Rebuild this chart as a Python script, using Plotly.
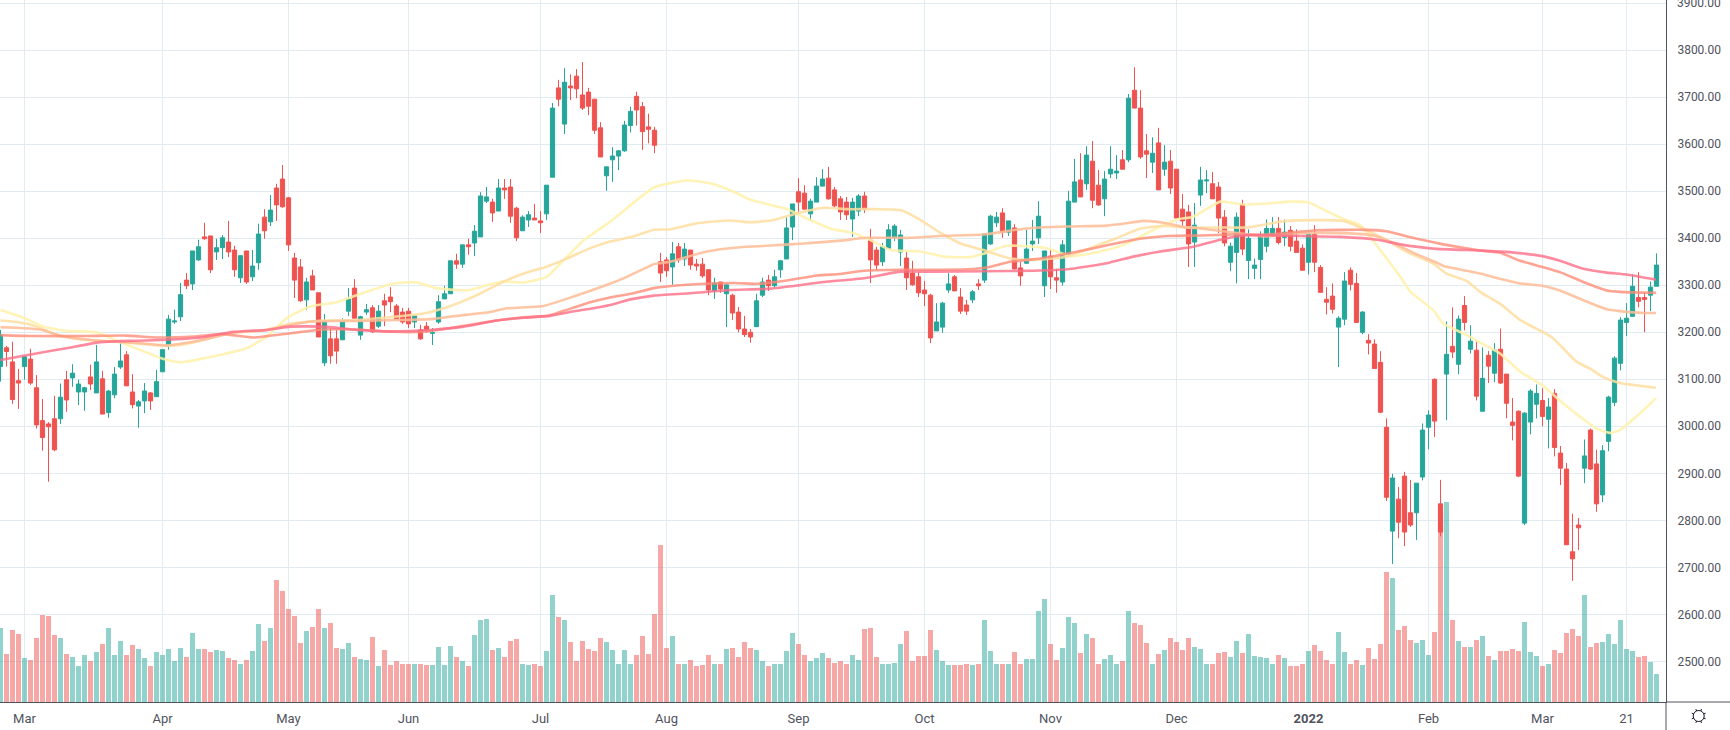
#!/usr/bin/env python3
"""Daily candlesticks with volume and five moving averages, Mar 2021 - Mar 2022."""

import math

import plotly.graph_objects as go

# one candle per session, index 0 is the first session of March
first_index = -4

opens = [
    3127,3167,3137,3097,3127,3143,3082,3012,3005,3016,
    3016,3099,3103,3073,3073,3105,3071,3101,3029,3067,
    3126,3152,3073,3043,3054,3071,3063,3116,3171,3222,
    3233,3311,3303,3354,3403,3405,3371,3380,3392,3375,
    3316,3373,3318,3348,3445,3435,3507,3526,3486,3358,
    3339,3269,3320,3284,3135,3186,3186,3184,3245,3294,
    3194,3243,3252,3213,3267,3275,3256,3243,3245,3222,
    3205,3213,3198,3222,3271,3282,3352,3345,3386,3390,
    3403,3479,3477,3458,3507,3509,3464,3416,3439,3443,
    3437,3452,3530,3720,3643,3724,3745,3705,3711,3696,
    3635,3533,3567,3575,3586,3640,3702,3680,3637,3630,
    3350,3354,3339,3382,3356,3375,3345,3345,3333,3288,
    3307,3282,3279,3243,3207,3200,3212,3279,3311,3299,
    3333,3356,3424,3499,3496,3452,3477,3511,3528,3503,
    3484,3477,3441,3458,3490,3396,3375,3350,3379,3401,
    3371,3358,3326,3318,3290,3279,3203,3211,3290,3318,
    3275,3258,3269,3303,3311,3388,3433,3454,3413,3422,
    3337,3347,3388,3401,3299,3362,3316,3307,3367,3477,
    3524,3516,3564,3513,3484,3537,3539,3567,3567,3715,
    3677,3586,3562,3603,3547,3564,3547,3462,3456,3392,
    3492,3522,3516,3509,3445,3349,3370,3472,3353,3336,
    3355,3383,3406,3421,3402,3417,3394,3379,3349,3408,
    3338,3270,3277,3211,3228,3332,3304,3200,3183,3175,
    3136,2998,2777,2845,2894,2816,2816,2892,2998,3100,
    2835,3111,3170,3132,3257,3164,3162,3032,3151,3113,
    3164,3111,3009,3032,2794,3009,3047,3055,3015,3070,
    2943,2909,2733,2790,2911,2992,2920,2854,2968,3051,
    3134,3221,3234,3274,3274,3279,3298,
]
closes = [
    3194,3159,3057,3092,3148,3092,3003,2976,2999,2950,
    3062,3056,3113,3090,3082,3090,3137,3026,3075,3111,
    3139,3086,3046,3052,3075,3054,3095,3163,3228,3224,
    3280,3299,3373,3382,3399,3333,3380,3401,3371,3333,
    3363,3307,3341,3409,3416,3460,3471,3467,3386,3311,
    3267,3307,3290,3190,3224,3150,3160,3224,3271,3230,
    3233,3248,3201,3245,3258,3265,3228,3222,3218,3235,
    3186,3205,3199,3265,3282,3352,3345,3386,3382,3415,
    3490,3488,3454,3507,3503,3447,3401,3445,3450,3439,
    3433,3513,3677,3696,3732,3720,3718,3677,3681,3630,
    3573,3552,3575,3586,3641,3670,3673,3627,3632,3598,
    3326,3331,3367,3354,3377,3343,3341,3320,3290,3305,
    3292,3301,3241,3207,3195,3190,3267,3307,3299,3318,
    3352,3422,3473,3477,3462,3479,3511,3526,3484,3469,
    3456,3450,3477,3490,3462,3354,3343,3382,3418,3426,
    3407,3316,3301,3284,3282,3188,3222,3262,3303,3288,
    3245,3245,3286,3299,3409,3447,3445,3413,3437,3335,
    3320,3377,3394,3447,3373,3318,3311,3386,3479,3520,
    3488,3577,3481,3471,3526,3547,3543,3547,3698,3677,
    3573,3579,3581,3503,3562,3507,3443,3437,3388,3428,
    3524,3524,3484,3443,3390,3383,3445,3377,3400,3343,
    3408,3421,3421,3391,3413,3383,3370,3332,3408,3349,
    3285,3264,3249,3230,3309,3302,3221,3243,3177,3123,
    3030,2849,2890,2796,2775,2790,2879,2992,3024,3011,
    2775,3153,3158,3228,3221,3181,3064,3102,3128,3162,
    3092,3049,3002,2894,3028,3075,3070,3021,3041,2955,
    2911,2748,2718,2784,2937,2909,2835,2948,3062,3145,
    3226,3230,3298,3266,3270,3296,3343,
]
highs = [
    3205,3171,3180,3122,3150,3165,3109,3058,3009,3065,
    3091,3118,3132,3099,3084,3131,3173,3118,3077,3126,
    3183,3160,3111,3056,3092,3073,3120,3163,3237,3248,
    3305,3326,3373,3397,3433,3405,3399,3407,3437,3384,
    3363,3373,3375,3431,3462,3492,3516,3556,3488,3369,
    3356,3316,3333,3284,3239,3209,3205,3230,3294,3313,
    3235,3260,3258,3258,3282,3296,3260,3252,3252,3237,
    3216,3222,3209,3279,3299,3352,3367,3386,3399,3428,
    3498,3509,3484,3526,3526,3526,3467,3449,3458,3473,
    3458,3513,3688,3737,3762,3749,3760,3775,3720,3696,
    3647,3552,3594,3588,3650,3680,3712,3690,3665,3637,
    3369,3360,3392,3390,3390,3375,3356,3358,3333,3316,
    3307,3301,3282,3254,3235,3207,3282,3316,3322,3333,
    3354,3445,3473,3528,3513,3484,3530,3547,3552,3509,
    3490,3488,3486,3494,3499,3420,3382,3390,3430,3430,
    3418,3371,3352,3328,3309,3282,3262,3265,3326,3322,
    3294,3269,3290,3313,3411,3450,3456,3464,3437,3430,
    3350,3418,3439,3479,3373,3377,3335,3396,3501,3569,
    3581,3596,3607,3545,3543,3596,3577,3588,3707,3764,
    3715,3622,3615,3635,3598,3588,3547,3494,3471,3475,
    3552,3545,3541,3520,3460,3391,3455,3482,3419,3357,
    3415,3440,3445,3445,3440,3426,3419,3387,3408,3428,
    3343,3296,3304,3234,3328,3338,3326,3245,3196,3185,
    3160,3017,2899,2871,2903,2886,2879,3006,3034,3102,
    2886,3223,3253,3236,3277,3215,3181,3168,3160,3177,
    3208,3111,3060,3034,3030,3079,3089,3081,3060,3079,
    2958,2922,2814,2805,2972,2995,2950,2960,3065,3149,
    3232,3262,3323,3328,3285,3308,3368,
]
lows = [
    3095,3127,3048,3037,3099,3088,2995,2948,2882,2947,
    3005,3031,3084,3045,3033,3077,3071,3026,3018,3060,
    3122,3086,3038,2997,3028,3035,3063,3116,3163,3218,
    3224,3292,3290,3352,3397,3326,3354,3356,3360,3318,
    3305,3303,3309,3333,3399,3426,3437,3465,3373,3273,
    3265,3248,3290,3190,3128,3133,3133,3184,3235,3230,
    3184,3237,3199,3209,3213,3243,3228,3218,3209,3209,
    3184,3199,3173,3218,3271,3282,3335,3337,3365,3362,
    3403,3475,3435,3458,3484,3433,3394,3416,3424,3439,
    3411,3439,3530,3681,3622,3694,3698,3673,3662,3622,
    3573,3501,3520,3545,3584,3625,3640,3588,3602,3581,
    3307,3318,3301,3348,3341,3333,3331,3316,3279,3271,
    3284,3211,3226,3200,3190,3178,3211,3275,3288,3296,
    3316,3356,3396,3456,3462,3437,3477,3511,3482,3465,
    3439,3439,3403,3447,3454,3305,3333,3341,3379,3394,
    3341,3290,3299,3275,3256,3177,3203,3199,3284,3288,
    3239,3237,3262,3290,3305,3386,3424,3401,3405,3333,
    3299,3345,3373,3388,3275,3292,3284,3299,3365,3477,
    3488,3503,3464,3469,3447,3528,3526,3547,3562,3677,
    3569,3528,3539,3503,3533,3494,3443,3424,3339,3339,
    3469,3496,3484,3411,3383,3330,3304,3364,3313,3313,
    3313,3370,3404,3387,3383,3372,3370,3332,3323,3328,
    3285,3238,3240,3126,3215,3289,3221,3196,3153,3123,
    3028,2841,2707,2762,2745,2786,2758,2885,2951,2977,
    2766,3013,3145,3111,3204,3155,3055,3032,3092,3094,
    3090,3017,2970,2892,2790,2983,3017,3000,2953,2936,
    2875,2748,2671,2737,2879,2907,2818,2839,2947,3043,
    3119,3192,3234,3253,3200,3245,3298,
]
volumes = [
    74,48,72,68,44,42,64,87,86,67,
    64,48,45,36,47,41,50,58,74,47,
    61,47,57,53,44,36,50,47,53,41,
    54,45,69,53,53,50,52,51,44,42,
    38,42,51,78,61,74,122,111,93,86,
    59,71,75,93,74,79,54,53,59,45,
    43,42,65,36,52,37,41,38,38,38,
    38,37,37,55,37,56,45,41,36,67,
    82,83,52,54,45,61,63,38,37,38,36,
    51,107,85,82,60,41,61,53,51,64,
    60,52,38,52,38,47,66,48,88,157,
    54,66,38,38,42,36,37,47,38,38,
    53,54,45,60,54,52,41,36,38,38,
    51,69,58,47,41,44,49,44,39,41,
    38,47,42,73,74,45,38,38,39,58,
    71,41,46,46,72,52,41,37,37,37,
    38,37,38,82,51,38,38,38,50,
    38,43,43,91,103,58,42,54,85,79,
    49,68,64,38,43,47,38,41,91,79,
    77,59,38,48,52,64,60,52,64,55,
    53,38,38,49,50,45,61,49,68,46,
    45,44,38,47,44,36,36,38,51,57,
    51,42,38,70,50,38,42,37,54,43,
    58,130,124,72,76,62,59,62,47,70,
    188,200,82,61,55,55,62,66,46,42,
    51,51,53,51,80,50,46,36,38,52,
    49,69,73,66,107,55,59,60,68,58,
    82,53,51,45,46,40,28,
]

ma1_x = [-4,0,3.2,7,12,15,19.3,23.2,26,30.4,37,40.4,43.7,47.6,52,56.5,61,63.2,65.4,68.7,72.1,74.3,77.6,79.9,83.2,87,89.9,93.2,97.6,104.9,110.4,114.3,118.2,121,127.1,129.9,134.3,138.2,141.5,144.3,149.3,153.2,157.6,159.8,163.7,170.4,174.3,179.3,183.2,186.5,189.3,192.1,194.8,199.3,203,207,211,214,217,220,222.6,226,229.3,231,234.8,236.5,240.4,242.6,245.9,249.3,253,256.5,259.3,262,264.3,265.9,268.2,270.4,271.9]
ma1_y = [3248,3230,3212,3203,3200,3184,3162,3143,3136,3146,3166,3191,3230,3255,3264,3284,3302,3306,3306,3294,3290,3290,3302,3308,3306,3318,3354,3396,3435,3508,3523,3517,3499,3482,3462,3445,3421,3411,3393,3375,3372,3361,3360,3367,3384,3379,3362,3372,3386,3407,3425,3440,3446,3478,3472,3474,3478,3476,3458,3440,3428,3374,3318,3286,3247,3218,3194,3178,3155,3116,3087,3048,3020,2995,2986,2992,3016,3041,3060]

ma2_x = [-4,-0.7,2.1,5.4,9.8,15.4,19.8,24.3,28.7,33.7,39.8,44.3,49.9,55.4,61.5,66.5,71,75.4,79.9,83.2,87.1,89.9,94.3,97.6,101.5,104.9,107.6,112.1,117.6,121,124.9,128.7,133.2,137.1,141.5,146,149.3,152.6,156,159.8,164.3,168.2,173.7,178.2,182,186,189.8,194.3,199.3,203.7,210.4,219.8,223.7,227,230.4,234.8,237,240.4,242.6,245.9,249.3,253,254.8,258.7,260.9,263.2,265.9,269.3,271.9]
ma2_y = [3225,3221,3212,3194,3184,3180,3175,3171,3180,3198,3204,3218,3225,3226,3233,3240,3256,3279,3308,3325,3340,3354,3379,3393,3404,3418,3419,3432,3438,3434,3439,3453,3465,3462,3462,3460,3439,3412,3389,3375,3357,3354,3361,3382,3400,3421,3426,3423,3423,3423,3437,3437,3417,3396,3371,3346,3325,3309,3286,3261,3226,3201,3187,3137,3123,3104,3092,3086,3082]

ma3_x = [-4,-0.7,2.6,6.5,12.6,18.2,23.7,29.3,34.8,40.4,47.6,55.4,62.1,67.6,72.1,77.6,80.4,86.5,91.5,97.1,100.4,104.9,107.6,113.7,119.3,123.7,129.9,136,140.4,147.6,152.6,159.8,167,173.7,180.4,183.7,186.5,189.8,193.7,196,201.5,207,212.6,219.8,224.8,228.2,231.5,235.4,236.5,240.4,242.6,245.9,249.3,253,255.9,259.8,263.7,265.9,269.8,271.9]
ma3_y = [3211,3209,3206,3191,3182,3178,3172,3183,3199,3205,3223,3224,3226,3228,3235,3243,3251,3256,3276,3301,3318,3345,3350,3372,3381,3384,3389,3395,3401,3401,3405,3408,3421,3425,3427,3432,3437,3433,3423,3421,3412,3404,3411,3411,3406,3390,3369,3348,3341,3331,3325,3314,3304,3299,3289,3268,3249,3245,3241,3241]

ma4_x = [-4,1.5,9.8,17,22,28.2,33.2,38.2,44.3,49.9,55.4,61,66.5,71,77.6,83.2,87.1,92.1,94.3,97.6,101.5,104.9,110.4,118.2,122.1,126.5,132.1,136,139.9,146,151.5,157,160.4,164.3,169.3,173.7,178.2,182.6,186.5,190.4,196,201.5,207,215.4,223.7,227,230.4,235.4,236.5,242.6,245.9,249.3,253,255.9,259.8,263.7,265.9,271.9]
ma4_y = [3194,3192,3192,3193,3189,3191,3196,3189,3198,3206,3206,3201,3201,3209,3223,3232,3235,3255,3264,3274,3283,3294,3301,3305,3303,3309,3321,3324,3331,3333,3333,3334,3338,3350,3357,3367,3379,3391,3400,3405,3406,3408,3408,3417,3418,3415,3404,3390,3387,3374,3369,3352,3339,3328,3307,3289,3286,3284]

ma5_x = [-4,1.5,7,12.6,18.2,23.7,29.3,34.8,40.4,44.3,49.9,55.4,61,67.6,73.2,78.7,83.2,87.6,92.1,94.3,97.6,101,104.9,111,117.6,124.3,133.2,139.9,146,151.5,159.8,168.2,173.7,180.4,184.8,189.3,194.8,199.3,203.2,212.6,219.3,225.4,229.3,234.8,242.6,247,253,255.9,259.8,263.7,267,271.9]
ma5_y = [3141,3154,3166,3179,3182,3184,3189,3201,3205,3212,3212,3205,3202,3205,3212,3225,3231,3235,3246,3250,3258,3270,3278,3283,3290,3293,3307,3315,3329,3329,3330,3331,3334,3347,3361,3372,3382,3397,3406,3405,3403,3397,3387,3378,3374,3371,3362,3352,3335,3327,3323,3312]

price_ticks = [2500,2600,2700,2800,2900,3000,3100,3200,3300,3400,3500,3600,3700,3800,3900]
month_ticks = [0,23,44,64,86,107,129,150,171,192,214,234,253,267]
month_labels = ["Mar","Apr","May","Jun","Jul","Aug","Sep","Oct","Nov","Dec","<b>2022</b>","Feb","Mar","21"]

UP = "#26a69a"
DOWN = "#ef5350"
GRID = "#e1ecf2"
AXIS = "#50535e"
FONT = "Roboto, Arial, sans-serif"

PLOT_W = 1666
PLOT_H = 702

idx = list(range(first_index, first_index + len(closes)))

fig = go.Figure()

# volume sits on the hidden left axis so the candles draw on top of it
fig.add_trace(go.Bar(
    x=idx, y=volumes,
    marker=dict(color=[UP if c >= o else DOWN for o, c in zip(opens, closes)], line=dict(width=0)),
    opacity=0.5,
    hoverinfo="skip",
))
fig.add_trace(go.Candlestick(
    x=idx, open=opens, high=highs, low=lows, close=closes, yaxis="y2",
    increasing=dict(line=dict(color=UP, width=1), fillcolor=UP),
    decreasing=dict(line=dict(color=DOWN, width=1), fillcolor=DOWN),
    whiskerwidth=0,
))

ma_lines = [
    (ma1_x, ma1_y, "rgba(255,241,170,0.85)"),
    (ma2_x, ma2_y, "rgba(255,222,160,0.85)"),
    (ma3_x, ma3_y, "rgba(255,188,150,0.85)"),
    (ma4_x, ma4_y, "rgba(255,140,120,0.8)"),
    (ma5_x, ma5_y, "rgba(255,110,135,0.8)"),
]
for xs, ys, color in ma_lines:
    fig.add_trace(go.Scatter(
        x=xs, y=ys, mode="lines", yaxis="y2",
        line=dict(color=color, width=2.6, shape="spline", smoothing=0.5),
        hoverinfo="skip",
    ))

# settings icon in the corner of the scales
gear_x, gear_y = 1698.7, 716.0
def px(x):
    return x / PLOT_W
def py(y):
    return (PLOT_H - y) / PLOT_H

frame = [
    # the frame runs on past the plot area, under the price scale and date strip
    dict(type="line", xref="paper", yref="paper", x0=1, x1=1730 / PLOT_W, y0=0, y1=0,
         line=dict(color=AXIS, width=1)),
    dict(type="line", xref="paper", yref="paper", x0=1, x1=1, y0=-28 / PLOT_H, y1=0,
         line=dict(color=AXIS, width=1)),
    dict(type="circle", xref="paper", yref="paper",
         x0=px(gear_x - 5.5), x1=px(gear_x + 5.5), y0=py(gear_y + 5.5), y1=py(gear_y - 5.5),
         line=dict(color="#131722", width=1)),
]
for i in range(8):
    a = math.pi / 8 + i * math.pi / 4
    frame.append(dict(
        type="line", xref="paper", yref="paper",
        x0=px(gear_x + 5.5 * math.cos(a)), x1=px(gear_x + 7.5 * math.cos(a)),
        y0=py(gear_y + 5.5 * math.sin(a)), y1=py(gear_y + 7.5 * math.sin(a)),
        line=dict(color="#131722", width=1),
    ))

fig.update_layout(
    width=1730, height=730,
    margin=dict(l=0, r=64, t=0, b=28),
    paper_bgcolor="white", plot_bgcolor="white",
    showlegend=False,
    bargap=0.17,
    boxgroupgap=0,
    font=dict(family=FONT, size=12, color=AXIS),
    xaxis=dict(
        range=[-4.083, 273.58],
        tickvals=month_ticks, ticktext=month_labels, tickangle=0,
        showgrid=True, gridcolor=GRID, gridwidth=1,
        zeroline=False, showline=True, linecolor=AXIS, linewidth=1,
        ticks="", ticklabelstandoff=4,
        tickfont=dict(family=FONT, size=13, color=AXIS),
        rangeslider=dict(visible=False),
    ),
    yaxis=dict(range=[0, PLOT_H], visible=False, showgrid=False, zeroline=False),
    yaxis2=dict(
        overlaying="y", side="right",
        range=[2413.4, 3907], tickvals=price_ticks, tickformat=".2f",
        showgrid=True, gridcolor=GRID, gridwidth=1,
        zeroline=False, showline=True, linecolor=AXIS, linewidth=1,
        ticks="", ticklabelstandoff=8,
        tickfont=dict(family=FONT, size=12, color=AXIS),
    ),
    shapes=frame,
    annotations=[
        # plotly drops the top tick label because it runs off the page, the reference keeps it cut
        dict(text="3900.00", xref="paper", yref="y2", x=1676 / PLOT_W, y=3900, xanchor="left",
             showarrow=False, borderpad=0, font=dict(family=FONT, size=12, color=AXIS)),
    ],
)

fig.write_html("out.html", config={"displayModeBar": False},
               post_script="document.body.style.margin='0';document.body.style.overflow='hidden';")
